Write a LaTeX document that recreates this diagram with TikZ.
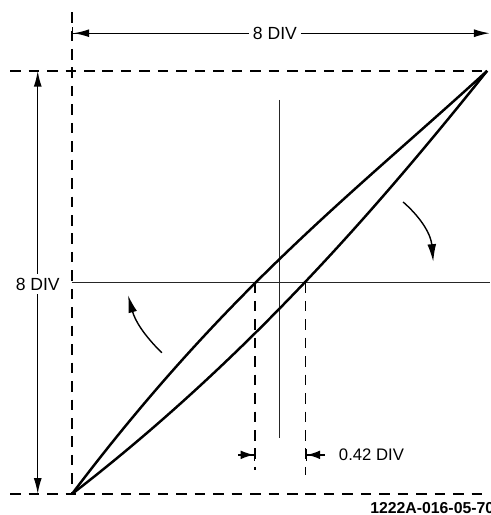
\documentclass[tikz,border=0pt]{standalone}
\usepackage{fontspec}
\setmainfont{Liberation Sans}
\usepackage{tikz}
\usetikzlibrary{arrows.meta, positioning}
\tikzset{
  gridD/.style={line width=1pt, dash pattern=on 6pt off 4.5pt},
  gridS/.style={line width=0.8pt, draw=black!85},
  traceL/.style={line width=1.4pt},
  dimA/.style={line width=0.8pt},
  tipL/.tip={Latex[length=9pt, width=4.5pt]},
  tipS/.tip={Latex[length=7.5pt, width=5pt]},
  lbl/.style={font=\fontsize{10}{12}\selectfont, inner sep=2pt, fill=white},
  lblS/.style={font=\fontsize{9.5}{11}\selectfont, inner sep=2pt, anchor=west},
  tagL/.style={font=\bfseries\fontsize{9}{11}\selectfont, inner sep=0pt, anchor=west},
}

\begin{document}
\begin{tikzpicture}[x=1.038cm, y=1.058cm]
    \useasboundingbox (-1.387,-0.397) rectangle (8.054,9.338);
    %% corners of the loop
    \coordinate (A) at (0,0);
    \coordinate (B) at (8,8);
    %% dashed frame
    \draw[gridD] (-1.19,8) -- (8.05,8);
    \draw[gridD] (-1.19,0) -- (8.05,0);
    \draw[gridD] (0,9.11) -- (A);
    %% centre lines
    \coordinate (hL) at (0,4);
    \coordinate (hR) at (8.05,4);
    \draw[gridS] (hL) -- (hR);
    \coordinate (vT) at (4,7.45);
    \coordinate (vB) at (4,1.06);
    \draw[gridS] (vT) -- (vB);
    %% hysteresis loop
    \draw[traceL] (A) .. controls (3.0,3.9) and (5.5,5.75) .. (B);
    \draw[traceL] (A) .. controls (3.3,2.5) and (5.8,5.3) .. (B);
    %% horizontal 8 DIV
    \node[lbl] (topL) at (3.91,8.71) {8 DIV};
    \coordinate (topS) at (0,8.71);
    \coordinate (topE) at (8.05,8.71);
    \draw[dimA, {Bar[width=7pt]tipL[]}-] (topS) -- (topL);
    \draw[dimA, -{tipL[]}] (topL) -- (topE);
    %% vertical 8 DIV
    \node[lbl] (leftL) at (-0.66,3.97) {8 DIV};
    \coordinate (lTop) at (-0.66,8);
    \coordinate (lBot) at (-0.66,0);
    \draw[dimA, -{tipL[]}] (leftL) -- (lTop);
    \draw[dimA, -{tipL[]}] (leftL) -- (lBot);
    %% crossing points and 0.42 DIV
    \coordinate (xL) at (3.53,4);
    \coordinate (xR) at (4.5,4);
    \coordinate (xLb) at (3.53,0.45);
    \coordinate (xRb) at (4.5,0.36);
    \draw[gridD] (xL) -- (xLb);
    \draw[gridD] (xR) -- (xRb);
    \coordinate (aL) at (3.2,0.74);
    \coordinate (aLt) at (3.53,0.74);
    \coordinate (aR) at (4.87,0.74);
    \coordinate (aRt) at (4.5,0.74);
    \draw[dimA, -{tipS[]Bar[width=7pt]}] (aL) -- (aLt);
    \draw[dimA, -{tipS[]Bar[width=7pt]}] (aR) -- (aRt);
    \node[lblS] (gapL) at (5.07,0.74) {0.42 DIV};
    %% sweep direction
    \coordinate (r1) at (6.38,5.52);
    \coordinate (r2) at (6.96,4.39);
    \draw[dimA, -{Latex[length=10pt, width=5pt]}] (r1) to[bend left=22] (r2);
    \coordinate (l1) at (1.73,2.67);
    \coordinate (l2) at (1.08,3.76);
    \draw[dimA, -{Latex[length=10pt, width=5pt]}] (l1) to[bend left=15] (l2);
    %% figure tag
    \node[tagL] (tag) at (5.74,-0.26) {1222A-016-05-70};
  \end{tikzpicture}
\end{document}
